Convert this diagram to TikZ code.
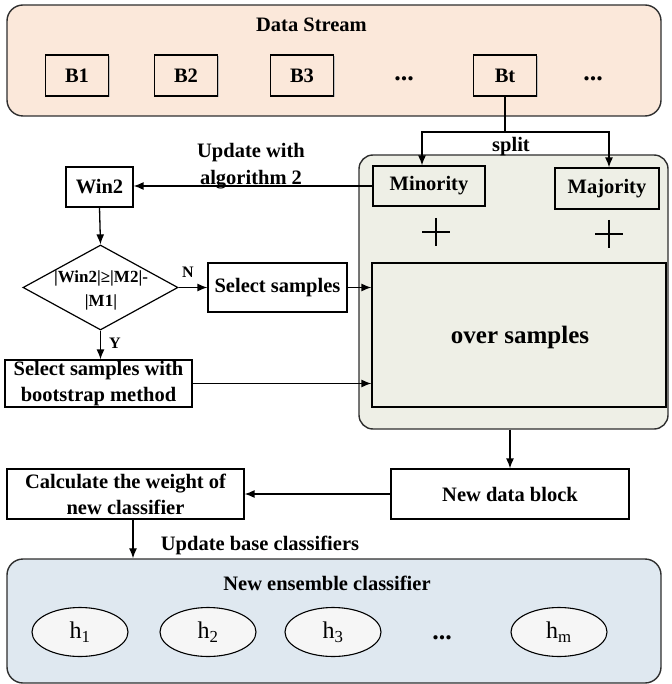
\documentclass[tikz,border=0pt]{standalone}
\usepackage{fontspec}
\setmainfont{Liberation Serif}
\usetikzlibrary{arrows.meta,shapes.geometric,shadows}
\definecolor{peach}{HTML}{FBE8DA}
\definecolor{sage}{HTML}{EEEFE6}
\definecolor{paleblue}{HTML}{DFE8F0}
\definecolor{ellfill}{HTML}{F6F6F6}
\definecolor{framegray}{HTML}{2E2E2E}
\begin{document}
\begin{tikzpicture}[x=1pt,y=-1pt,
  txt/.style={font=\fontsize{20.5}{26}\selectfont\bfseries, align=center, inner sep=0pt},
  box/.style={draw=black, line width=1.2pt, txt},
  shd/.style={general shadow={shadow xshift=1.2pt, shadow yshift=-1.2pt, fill=black!25}},
  blk/.style={box, shd, fill=peach, minimum width=63pt, minimum height=41pt},
  cont/.style={draw=framegray, line width=1.4pt, rounded corners=16pt, inner sep=0pt},
  arr/.style={-{Latex[length=10pt,width=8pt]}, line width=1.3pt},
  ln/.style={line width=1.3pt},
  ell/.style={ellipse, draw, line width=1.1pt, fill=ellfill, minimum width=96pt, minimum height=49pt, inner sep=0pt, font=\fontsize{24}{24}\selectfont},
  dotsn/.style={font=\fontsize{26}{26}\selectfont\bfseries, inner sep=0pt},
  small/.style={font=\fontsize{16}{16}\selectfont\bfseries, inner sep=0pt}
]
\useasboundingbox (0,0) rectangle (671,684);

% ---------- Data stream ----------
\node[cont, fill=peach, minimum width=654pt, minimum height=111pt] (ds) at (334,60.5) {};
\node[txt] (dstitle) at (311.5,25) {Data Stream};
\node[blk] (b1) at (77,75.5) {B1};
\node[blk] (b2) at (186,75.5) {B2};
\node[blk] (b3) at (302,75.5) {B3};
\node[dotsn] (d1) at (404,79) {...};
\node[blk] (bt) at (505,75.5) {Bt};
\node[dotsn] (d2) at (593,79) {...};

% ---------- Green container ----------
\node[cont, fill=sage, rounded corners=14pt, minimum width=309pt, minimum height=274pt] (gc) at (513.5,292) {};
\node[box, shd, fill=sage, minimum width=112pt, minimum height=40pt] (min) at (429,186) {Minority};
\node[box, shd, fill=sage, minimum width=104pt, minimum height=41pt] (maj) at (607,188.5) {Majority};
\draw[line width=2pt] (422,232) -- (450,232) (436,218) -- (436,246);
\draw[line width=2pt] (595,234) -- (623,234) (609,220) -- (609,248);
\node[box, shd, fill=sage, minimum width=294pt, minimum height=144pt] (over) at (519,335) {};
\node[txt, font=\fontsize{25}{25}\selectfont\bfseries] (overt) at (520,337) {over samples};

% split
\coordinate (sp) at (505,132);
\draw[ln] (bt.south) -- (sp);
\draw[arr] (sp) -| ([xshift=-7pt]min.north);
\draw[arr] (sp) -| ([xshift=2pt]maj.north);
\node[txt] (splitl) at (511,147) {split};

% ---------- Left flow ----------
\node[box, minimum width=67pt, minimum height=40pt] (win2) at (99.5,187) {Win2};
\draw[arr] (min.west) -- (min.west -| win2.east);
\node[txt] (upd) at (251,166.5) {Update with\\[1pt]algorithm 2};

\node[diamond, draw, line width=1.2pt, minimum width=155pt, minimum height=85pt, inner sep=0pt] (dec) at (100.5,287.5) {};
\node[txt, font=\fontsize{17}{24}\selectfont\bfseries] (dect) at (101,290) {|Win2|≥|M2|-\\|M1|};
\draw[arr] (win2.south) -- (dec.north);

\node[box, minimum width=139pt, minimum height=49pt] (ss) at (277.5,287.5) {Select samples};
\draw[arr] (dec.east) -- (ss.west);
\node[small] (nl) at (188,272) {N};
\draw[arr] (ss.east) -- (ss.east -| over.west);

\node[box, minimum width=187pt, minimum height=47pt] (bs) at (98.5,383.5) {Select samples with\\bootstrap method};
\draw[arr] (dec.south) -- (dec.south |- bs.north);
\node[small] (yl) at (115,343) {Y};
\draw[arr] (bs.east) -- (bs.east -| over.west);

% ---------- Lower part ----------
\node[box, minimum width=238pt, minimum height=50pt] (nd) at (510,494) {New data block};
\draw[arr] (nd.north |- gc.south) -- (nd.north);
\node[box, minimum width=237pt, minimum height=50pt] (calc) at (125.5,494) {Calculate the weight of\\new classifier};
\draw[arr] (nd.west) -- (calc.east);

\node[cont, fill=paleblue, minimum width=654pt, minimum height=124pt] (ens) at (334,621) {};
\coordinate (cd) at (133,519);
\draw[arr] (cd) -- (cd |- ens.north);
\node[txt] (ubc) at (260,545) {Update base classifiers};
\node[txt] (enst) at (327,583) {New ensemble classifier};
\node[ell] (h1) at (80,632) {h\textsubscript{1}};
\node[ell] (h2) at (208,632) {h\textsubscript{2}};
\node[ell] (h3) at (333,632) {h\textsubscript{3}};
\node[dotsn] (d3) at (442,638) {...};
\node[ell] (hm) at (559,632) {h\textsubscript{m}};
\end{tikzpicture}
\end{document}
